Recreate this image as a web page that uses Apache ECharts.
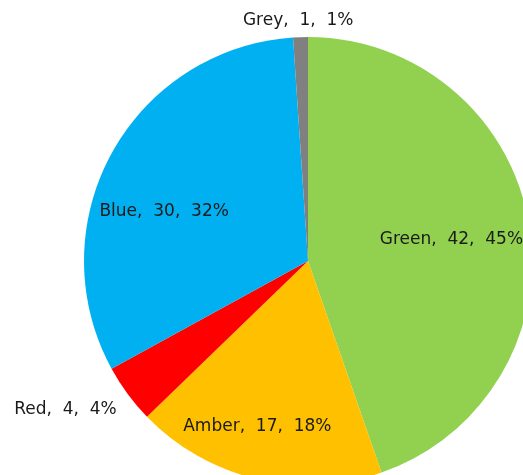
<!DOCTYPE html>
<html>
<head>
<meta charset="utf-8">
<script src="https://cdn.jsdelivr.net/npm/echarts@6/dist/echarts.min.js"></script>
<style>
  html, body { margin: 0; padding: 0; background: #fff; }
  #chart { width: 523px; height: 475px; }
</style>
</head>
<body>
<div id="chart"></div>
<script>
var categories = ["Green", "Amber", "Red", "Blue", "Grey"];
var values = [42, 17, 4, 30, 1];
var colors = ["#92D050", "#FFC000", "#FF0000", "#00B0F0", "#808080"];

// label nudges from the default "inside" spot
var labelOffsets = {
  Green: [30, -2],
  Amber: [-24, 54],
  Red: [-150, 80],
  Blue: [-43, 6],
  Grey: [-6, -125],
};

var total = values.reduce(function (a, b) { return a + b; }, 0);

var pieData = [];
for (var i = 0; i < categories.length; i++) {
  pieData.push({
    name: categories[i],
    value: values[i],
    itemStyle: { color: colors[i] },
    label: { offset: labelOffsets[categories[i]] },
  });
}

var gap = "\u00a0\u00a0";

const myChart = echarts.init(document.getElementById("chart"));
var option = {
  animation: false,
  series: [
    {
      type: "pie",
      center: [308, 261],
      radius: [0, 224],
      startAngle: 90,
      clockwise: true,
      data: pieData,
      itemStyle: { borderWidth: 0 },
      emphasis: { disabled: true },
      labelLine: { show: false },
      label: {
        show: true,
        position: "inside",
        color: "#1a1a1a",
        fontFamily: "DejaVu Sans",
        fontSize: 17,
        formatter: function (p) {
          return p.name + "," + gap + p.value + "," + gap + Math.round((p.value / total) * 100) + "%";
        },
      },
    },
  ],
};
myChart.setOption(option);
</script>
</body>
</html>
